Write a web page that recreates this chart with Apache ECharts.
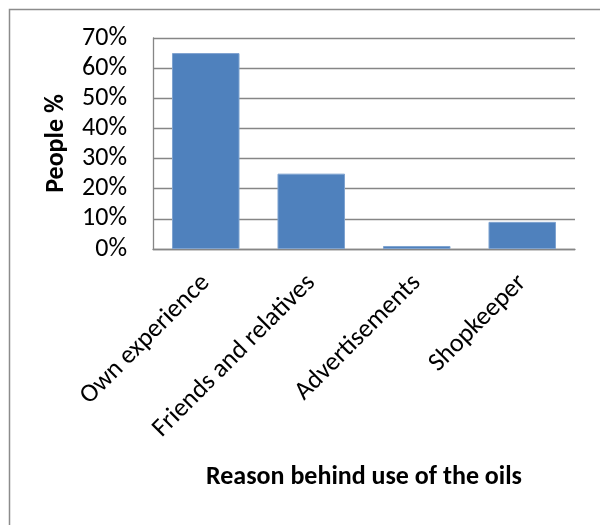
<!DOCTYPE html>
<html>
<head>
<meta charset="utf-8">
<script src="https://cdn.jsdelivr.net/npm/echarts@6/dist/echarts.min.js"></script>
<style>
html,body{margin:0;padding:0;background:#fff;}
#chart{width:600px;height:525px;}
</style>
</head>
<body>
<div id="chart"></div>
<script>
const categories = ['Own experience', 'Friends and relatives', 'Advertisements', 'Shopkeeper'];
const values = [65, 25, 1, 9];
const yTicks = [0, 10, 20, 30, 40, 50, 60, 70];
const xTitle = 'Reason behind use of the oils';
const yTitle = 'People %';

const FONT = 'Carlito, Lato, sans-serif';
const chart = echarts.init(document.getElementById('chart'), null, {renderer: 'canvas'});
chart.setOption({
  animation: false,
  backgroundColor: '#ffffff',
  graphic: [{
    type: 'rect',
    left: 7, top: 7,
    shape: {width: 700, height: 600},
    style: {fill: 'none', stroke: '#8c8c8c', lineWidth: 1.5},
    silent: true
  }],
  grid: {left: 153, right: 25, top: 38, bottom: 276, containLabel: false},
  xAxis: {
    type: 'category',
    data: categories,
    axisLine: {show: true, lineStyle: {color: '#868686', width: 1.3}},
    axisTick: {show: false},
    axisLabel: {rotate: 45, margin: 30, color: '#000', fontFamily: FONT, fontSize: 26, interval: 0},
    name: xTitle,
    nameLocation: 'middle',
    nameGap: 215,
    nameTextStyle: {color: '#000', fontFamily: FONT, fontSize: 26, fontWeight: 'bold', verticalAlign: 'top'}
  },
  yAxis: {
    type: 'value',
    min: yTicks[0],
    max: yTicks[yTicks.length - 1],
    interval: yTicks[1] - yTicks[0],
    axisLine: {show: true, lineStyle: {color: '#868686', width: 1.3}},
    axisTick: {show: false},
    splitLine: {show: true, lineStyle: {color: '#868686', width: 1.3}},
    axisLabel: {formatter: v => v + '%', margin: 26, color: '#000', fontFamily: FONT, fontSize: 26},
    name: yTitle,
    nameLocation: 'middle',
    nameGap: 84,
    nameRotate: 90,
    nameTextStyle: {color: '#000', fontFamily: FONT, fontSize: 26, fontWeight: 'bold'}
  },
  series: [{
    type: 'bar',
    data: values,
    barCategoryGap: '36%',
    itemStyle: {color: '#4F81BD', borderColor: '#7fa3d0', borderWidth: 1}
  }]
});
</script>
</body>
</html>
